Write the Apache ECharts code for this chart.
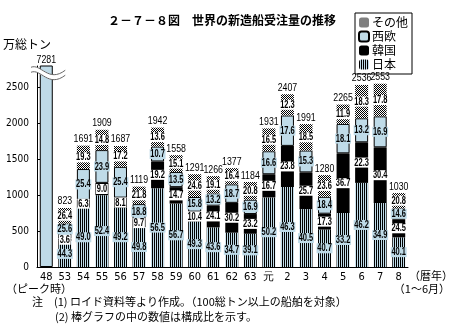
<!DOCTYPE html>
<html>
<head>
<meta charset="utf-8">
<script src="https://cdn.jsdelivr.net/npm/echarts@6/dist/echarts.min.js"></script>
<style>
  html, body { margin: 0; padding: 0; background: #fff; }
  #chart { width: 456px; height: 331px; }
</style>
</head>
<body>
<div id="chart"></div>
<script>
// Calendar years (Showa 48, 53-63, Heisei 元-8; year 8 covers Jan-Jun)
const years = ['48', '53', '54', '55', '56', '57', '58', '59', '60', '61', '62', '63', '元', '2', '3', '4', '5', '6', '7', '8'];
// World new-ship orders, total (10,000 gross tons)
const totals = [7281, 823, 1691, 1909, 1687, 1119, 1942, 1558, 1291, 1266, 1377, 1184, 1931, 2407, 1991, 1280, 2265, 2536, 2553, 1030];
// Share of each region (%); the peak year 48 is shown as a single total bar
const shareJapan = [null, 44.3, 49.0, 52.4, 49.2, 49.8, 56.5, 56.7, 49.3, 43.6, 34.7, 39.1, 50.2, 46.3, 40.5, 40.7, 33.2, 46.2, 34.9, 40.1];
const shareKorea = [null, 3.6, 6.3, 9.0, 8.1, 9.7, 19.2, 14.7, 10.4, 24.1, 30.2, 23.2, 16.7, 23.8, 25.7, 17.3, 36.7, 22.3, 30.4, 24.5];
const shareWestEurope = [null, 25.6, 25.4, 23.9, 25.4, 18.8, 10.7, 13.5, 15.8, 13.2, 18.7, 16.9, 16.6, 17.6, 15.3, 18.4, 18.1, 13.2, 16.9, 14.6];
const shareOther = [null, 26.4, 19.3, 14.8, 17.2, 21.8, 13.6, 15.1, 24.6, 19.1, 16.4, 20.8, 16.5, 12.3, 18.5, 23.6, 11.9, 18.3, 17.8, 20.8];
// y-axis ticks
const yTicks = [0, 500, 1000, 1500, 2000, 2500];

const BLUE = '#bfdbe8';
const JP_FONT = '"Noto Sans CJK JP", "Noto Sans", sans-serif';
const AXIS_FONT = '"DejaVu Sans Condensed", "Liberation Sans", sans-serif';
const FIG_FONT = 'bold 11px "Liberation Sans", sans-serif';
const TOTAL_FONT = '11px "Liberation Sans", sans-serif';

const Y_MAX = 2800;
const GRID = { left: 35, right: 45, top: 66, bottom: 64 };
const pxPerUnit = (331 - GRID.top - GRID.bottom) / Y_MAX;

function pattern(w, h, draw) {
  const c = document.createElement('canvas');
  c.width = w; c.height = h;
  draw(c.getContext('2d'));
  return { image: c, repeat: 'repeat' };
}
// vertical hatching for Japan
const stripes = pattern(2, 1, g => {
  g.fillStyle = BLUE; g.fillRect(0, 0, 2, 1);
  g.fillStyle = '#000'; g.fillRect(0, 0, 1, 1);
});
// dithered grey for "other"
const checker = pattern(2, 2, g => {
  g.fillStyle = '#fff'; g.fillRect(0, 0, 2, 2);
  g.fillStyle = '#000'; g.fillRect(0, 0, 1, 1); g.fillRect(1, 1, 1, 1);
});

const shareSets = [shareJapan, shareKorea, shareWestEurope, shareOther];
const labelBgs = [BLUE, '#fff', BLUE, '#fff'];

function segValues(i) {
  return shareSets.map(s => totals[i] * s[i] / 100);
}

// Spread the share labels of one bar vertically so they do not overlap.
// Returns, for every segment, the shift (px, upward) from its centre.
function labelShifts(i) {
  const vals = segValues(i).map(v => v * pxPerUnit);
  const centres = [];
  let cum = 0;
  vals.forEach(v => { centres.push(cum + v / 2); cum += v; });
  const sep = 10.5, top = cum - 6, bottom = 5;
  const p = centres.slice();
  p[0] = Math.max(p[0], bottom);
  for (let k = 1; k < p.length; k++) p[k] = Math.max(p[k], p[k - 1] + sep);
  p[p.length - 1] = Math.min(p[p.length - 1], top);
  for (let k = p.length - 2; k >= 0; k--) p[k] = Math.min(p[k], p[k + 1] - sep);
  return p.map((y, k) => y - centres[k]);
}

// Label list: segment shares (centred in their segment) and bar totals (above the bar)
const labelSpecs = [];
totals.forEach((t, i) => {
  labelSpecs.push({ cat: i, value: Math.min(t, Y_MAX), shift: 0, text: String(t), kind: 'total' });
  if (i === 0) return;
  const vals = segValues(i);
  const sh = labelShifts(i);
  let cum = 0;
  vals.forEach((v, k) => {
    labelSpecs.push({ cat: i, value: cum + v / 2, shift: sh[k], text: shareSets[k][i].toFixed(1), kind: 'share', bg: labelBgs[k] });
    cum += v;
  });
});

function segment(name, idx, fill, border) {
  const shares = shareSets[idx];
  return {
    name: name,
    type: 'bar',
    stack: 'orders',
    barWidth: 13,
    data: shares.map((p, i) => p == null ? '-' : +(totals[i] * p / 100).toFixed(1)),
    itemStyle: Object.assign({ color: fill }, border ? { borderColor: '#000', borderWidth: 1 } : {}),
    emphasis: { disabled: true }
  };
}

const chart = echarts.init(document.getElementById('chart'), null, { renderer: 'canvas' });

const option = {
  animation: false,
  title: {
    text: '２－７－８図　世界の新造船受注量の推移',
    left: 217, top: 9, textAlign: 'center',
    textStyle: { fontFamily: JP_FONT, fontSize: 12, fontWeight: 'bold', color: '#000' }
  },
  legend: {
    orient: 'vertical',
    left: 355, top: 13,
    data: ['その他', '西欧', '韓国', '日本'],
    itemWidth: 10, itemHeight: 10, itemGap: 1,
    padding: [3, 4, 3, 3],
    borderColor: '#000', borderWidth: 1,
    selectedMode: false,
    textStyle: { fontFamily: JP_FONT, fontSize: 12, lineHeight: 13, color: '#000', padding: [0, 0, 0, -2] }
  },
  grid: GRID,
  xAxis: {
    type: 'category',
    data: years,
    axisLine: { lineStyle: { color: '#000', width: 1 } },
    axisTick: { show: false },
    axisLabel: { color: '#000', fontFamily: AXIS_FONT, fontSize: 11, margin: 5 },
    name: '（暦年）',
    nameLocation: 'end',
    nameGap: 1,
    nameTextStyle: { fontFamily: JP_FONT, fontSize: 11, color: '#000', align: 'left', verticalAlign: 'top', padding: [3, 0, 0, 0] }
  },
  yAxis: {
    type: 'value',
    min: 0, max: Y_MAX, interval: 500,
    axisLine: { show: true, lineStyle: { color: '#000', width: 1 } },
    axisTick: { show: true, inside: true, length: 3, lineStyle: { color: '#000' } },
    splitLine: { show: false },
    axisLabel: {
      color: '#000', fontFamily: AXIS_FONT, fontSize: 10, margin: 8, showMaxLabel: false,
      formatter: v => yTicks.indexOf(v) >= 0 ? String(v) : ''
    },
    name: '万総トン',
    nameLocation: 'end',
    nameGap: 16,
    nameTextStyle: { fontFamily: JP_FONT, fontSize: 12, color: '#000', align: 'center', padding: [0, 20, 0, 0] }
  },
  series: [
    {
      // peak year: a single bar cut off by the axis break
      name: '合計',
      type: 'bar',
      barWidth: 13,
      barGap: '-100%',
      data: totals.map((v, i) => i === 0 ? v : '-'),
      itemStyle: { color: BLUE, borderColor: '#000', borderWidth: 1 },
      emphasis: { disabled: true }
    },
    segment('日本', 0, stripes, false),
    segment('韓国', 1, '#000', false),
    segment('西欧', 2, BLUE, true),
    segment('その他', 3, checker, false),
    {
      // narrow figures: totals above bars, shares inside segments
      name: 'labels',
      type: 'custom',
      z: 5,
      clip: false,
      silent: true,
      data: labelSpecs.map(s => [s.cat, s.value]),
      renderItem: (params, api) => {
        const s = labelSpecs[params.dataIndex];
        const pt = api.coord([api.value(0), api.value(1)]);
        if (s.kind === 'total') {
          return {
            type: 'text', x: pt[0], y: pt[1] - 1, scaleX: 0.8,
            style: { text: s.text, font: TOTAL_FONT, fill: '#000', align: 'center', verticalAlign: 'bottom' }
          };
        }
        return {
          type: 'text', x: pt[0], y: pt[1] - s.shift, scaleX: 0.68,
          style: {
            text: s.text, font: FIG_FONT, fill: '#000', align: 'center', verticalAlign: 'middle',
            lineHeight: 10, backgroundColor: s.bg, padding: [0, 1]
          }
        };
      }
    }
  ],
  graphic: [
    { type: 'text', left: 6, top: 283, style: { text: '（ピーク時）', font: '11px ' + JP_FONT, fill: '#000' } },
    { type: 'text', right: 6, top: 283, style: { text: '（1～6月）', font: '11px ' + JP_FONT, fill: '#000' } },
    { type: 'text', left: 32, top: 296, style: { text: '注　(1) ロイド資料等より作成。（100総トン以上の船舶を対象）', font: '11px ' + JP_FONT, fill: '#000' } },
    { type: 'text', left: 55, top: 311, style: { text: '(2) 棒グラフの中の数値は構成比を示す。', font: '11px ' + JP_FONT, fill: '#000' } }
  ]
};

chart.setOption(option);

// axis break across the peak-year bar
const pA = chart.convertToPixel({ gridIndex: 0 }, [0, 2720]);
function wave(dy, stroke, width, z) {
  return {
    type: 'bezierCurve', z: z, silent: true,
    shape: {
      x1: 31, y1: pA[1] - 2 + dy,
      cpx1: 41, cpy1: pA[1] - 6 + dy,
      cpx2: pA[0] + 2, cpy2: pA[1] + 14 + dy,
      x2: pA[0] + 19, y2: pA[1] + 1 + dy
    },
    style: { stroke: stroke, lineWidth: width, fill: null }
  };
}
chart.setOption({
  graphic: option.graphic.concat([
    wave(0, '#fff', 5, 100),
    wave(-2.5, '#666', 1, 101),
    wave(2.5, '#666', 1, 101)
  ])
});
</script>
</body>
</html>
